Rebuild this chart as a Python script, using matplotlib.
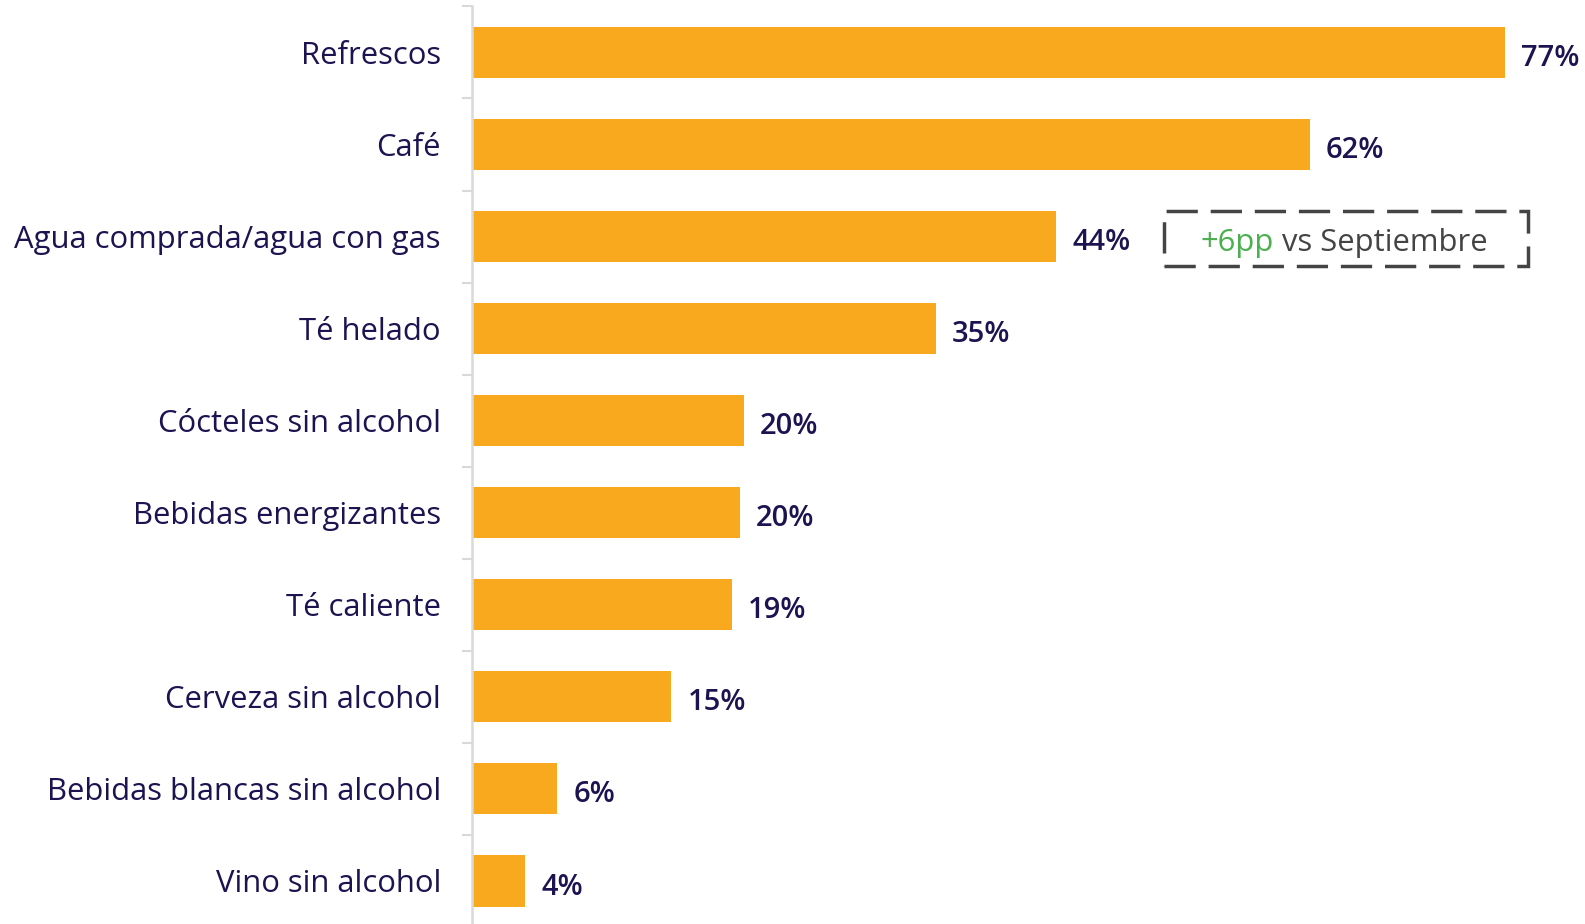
import numpy as np
import matplotlib.pyplot as plt
from matplotlib.patches import Rectangle

categories = ['Refrescos', 'Café', 'Agua comprada/agua con gas', 'Té helado',
              'Cócteles sin alcohol', 'Bebidas energizantes', 'Té caliente',
              'Cerveza sin alcohol', 'Bebidas blancas sin alcohol', 'Vino sin alcohol']
values = [77.0, 62.5, 43.6, 34.6, 20.3, 20.0, 19.4, 14.9, 6.4, 4.0]
value_labels = ['77%', '62%', '44%', '35%', '20%', '20%', '19%', '15%', '6%', '4%']

bar_color = '#F9A91E'
navy = '#1B1450'
grey = '#d9d9d9'

plt.rcParams['font.family'] = ['Open Sans', 'DejaVu Sans']

fig = plt.figure(figsize=(15.85, 9.24), dpi=100)
ax = fig.add_axes([0.2975, -0.003, 0.7025, 0.996])

y = np.arange(len(categories))
ax.barh(y, values, height=0.56, color=bar_color, zorder=2)
for yi, v, lab in zip(y, values, value_labels):
    ax.text(v + 1.2, yi + 0.03, lab, va='center_baseline', ha='left', fontsize=21,
            fontweight='semibold', color=navy)

ax.set_xlim(0, 83.0)
ax.set_ylim(len(categories) - 0.5, -0.5)
ax.set_yticks(y)
ax.set_yticklabels(categories, fontsize=22.3, color=navy)
ax.tick_params(axis='y', which='major', length=0, pad=22)
ax.set_yticks(np.arange(-0.5, len(categories)), minor=True)
ax.tick_params(axis='y', which='minor', length=7, width=1.5, color=grey)
ax.set_xticks([])
for s in ['top', 'right', 'bottom']:
    ax.spines[s].set_visible(False)
ax.spines['left'].set_color(grey)
ax.spines['left'].set_linewidth(1.8)

# annotation box
box = Rectangle((0.7347, 0.7123), 0.2296, 0.059, transform=fig.transFigure,
                fill=False, edgecolor='#444444', linewidth=2.5,
                linestyle=(0, (9, 3.7)))
fig.patches.append(box)
t1 = fig.text(0.7577, 0.7407, '+6pp', fontsize=22.3, color='#4CAF50',
              va='center_baseline', ha='left')
ax.annotate(' vs Septiembre', xy=(1, 0), xycoords=t1, va='bottom', ha='left',
            fontsize=22.3, color='#444444')

fig.savefig('out.png', dpi=100)
